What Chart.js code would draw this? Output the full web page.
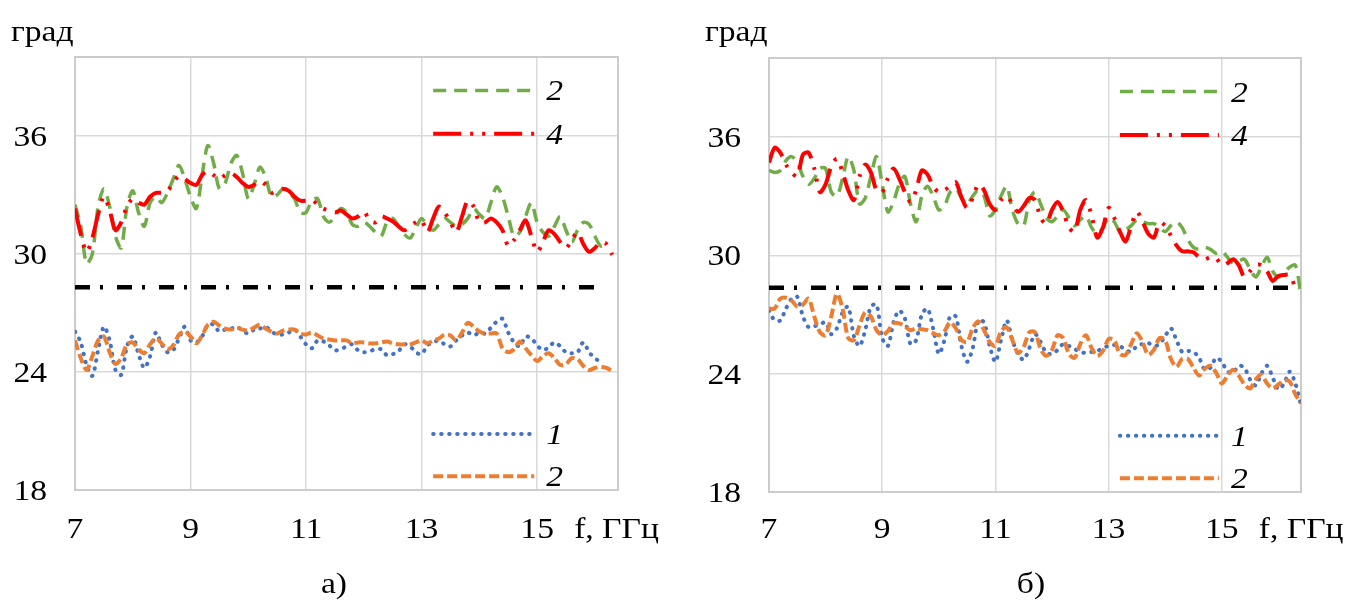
<!DOCTYPE html>
<html>
<head>
<meta charset="utf-8">
<script src="https://cdn.jsdelivr.net/npm/chart.js@4.4.0/dist/chart.umd.min.js"></script>
<style>
  body { margin: 0; background: #fff; }
  canvas { position: absolute; top: 0; }
</style>
</head>
<body>
<canvas id="chartA" width="681" height="601" style="left:0px"></canvas>
<canvas id="chartB" width="682" height="601" style="left:681px"></canvas>
<script>
// frequency grid, GHz
const freq = [
  7.0, 7.1, 7.2, 7.3, 7.4, 7.5, 7.6, 7.7, 7.8, 7.9,
  8.0, 8.1, 8.2, 8.3, 8.4, 8.5, 8.6, 8.7, 8.8, 8.9,
  9.0, 9.1, 9.2, 9.3, 9.4, 9.5, 9.6, 9.7, 9.8, 9.9,
  10.0, 10.1, 10.2, 10.3, 10.4, 10.5, 10.6, 10.7, 10.8, 10.9,
  11.0, 11.1, 11.2, 11.3, 11.4, 11.5, 11.6, 11.7, 11.8, 11.9,
  12.0, 12.1, 12.2, 12.3, 12.4, 12.5, 12.6, 12.7, 12.8, 12.9,
  13.0, 13.1, 13.2, 13.3, 13.4, 13.5, 13.6, 13.7, 13.8, 13.9,
  14.0, 14.1, 14.2, 14.3, 14.4, 14.5, 14.6, 14.7, 14.8, 14.9,
  15.0, 15.1, 15.2, 15.3, 15.4, 15.5, 15.6, 15.7, 15.8, 15.9,
  16.0, 16.1, 16.2, 16.3, 16.4
];
const xTicks = [7, 9, 11, 13, 15];
const yTicks = [18, 24, 30, 36];

// panel a)
const aGreen = [
  32.5, 31.4, 29.5, 30.0, 32.4, 33.3, 32.4, 30.9, 30.3, 32.4,
  33.2, 32.1, 31.4, 32.6, 32.9, 32.6, 33.1, 33.8, 34.5, 33.8,
  32.9, 32.3, 34.0, 35.5, 34.6, 33.3, 33.6, 34.6, 35.0, 34.1,
  32.8, 33.5, 34.4, 33.9, 32.9, 33.0, 33.3, 33.1, 32.8, 32.1,
  32.1, 32.7, 32.8, 31.9, 31.6, 31.9, 32.3, 32.1, 31.5, 31.4,
  31.6, 31.4, 31.1, 30.9, 31.6, 31.8, 31.4, 31.0, 30.8, 31.3,
  31.8, 31.4, 31.2, 31.5, 31.8, 31.6, 31.4, 31.5, 31.8, 32.3,
  32.0, 31.8, 32.6, 33.4, 32.9, 31.9, 30.9, 31.1, 31.9, 32.6,
  31.6, 31.1, 30.9, 31.4, 31.9, 31.2, 30.6, 31.2, 31.6, 31.5,
  30.9, 30.4, 30.5, null, null
];
const aRed = [
  32.3, 31.0, 30.1, 30.8, 32.0, 32.9, 32.2, 31.2, 31.6, 32.4,
  32.8, 32.6, 32.5, 32.9, 33.1, 33.1, 33.2, 33.6, 33.95, 33.8,
  33.6, 33.5, 34.0, 34.2, 34.0, 33.8, 34.0, 34.1, 33.9, 33.6,
  33.4, 33.5, 33.7, 33.5, 33.1, 33.2, 33.3, 33.2, 32.9, 32.7,
  32.7, 32.75, 32.5, 32.3, 32.2, 32.1, 32.2, 32.0, 31.8, 31.9,
  32.15, 31.7, 31.6, 31.9, 31.8, 31.65, 31.4, 31.2, 31.4, 31.6,
  31.7, 31.1, 31.8, 32.4, 32.1, 31.6, 31.1, 31.9, 32.7, 32.4,
  31.6, 31.6, 31.8, 31.6, 31.2, 30.4, 30.7, 31.2, 31.7, 30.9,
  30.1, 30.6, 31.2, 31.0, 30.6, 30.3, 30.7, 31.1, 30.5, 30.1,
  30.3, 30.6, 30.5, 29.95, null
];
const aBlue = [
  26.05, 25.5, 24.35, 23.8, 25.1, 26.3, 25.6, 24.1, 23.85, 25.3,
  25.8, 24.9, 24.2, 24.8, 26.0, 25.4, 25.0, 25.1, 25.7, 26.3,
  25.6, 25.5, 25.8, 26.4, 26.4, 26.05, 26.15, 26.2, 26.3, 26.1,
  25.95, 26.15, 26.2, 26.3, 26.05, 25.9, 25.9, 26.0, 26.15, 25.8,
  25.4, 25.2, 25.6, 25.55, 25.35, 25.1, 25.15, 25.3, 25.4, 25.1,
  25.0, 25.05, 25.15, 25.15, 24.85, 24.9, 25.05, 25.4, 25.3, 25.0,
  24.9, 25.35, 25.5, 25.6, 25.4, 25.3, 25.6, 25.85, 26.0, 25.85,
  26.0, 25.95, 26.25, 26.55, 26.7, 26.0, 25.5, 25.3, 25.8, 25.7,
  25.35, 25.1, 25.25, 25.5, 25.3, 25.0, 24.95, 25.0, 25.5, 25.0,
  24.7, 24.5, null, null, null
];
const aOrange = [
  25.6, 24.7, 24.1, 24.8, 25.6, 25.8, 25.0, 24.4, 24.7, 25.4,
  25.5, 25.15, 24.95, 25.4, 25.7, 25.45, 25.15, 25.35, 25.9, 26.05,
  25.8, 25.45, 25.85, 26.4, 26.55, 26.35, 26.2, 26.15, 26.25, 26.15,
  26.1, 26.25, 26.4, 26.2, 26.05, 25.95, 26.1, 26.15, 26.15, 25.95,
  25.9, 26.0, 25.85, 25.7, 25.65, 25.6, 25.6, 25.6, 25.45, 25.5,
  25.5, 25.45, 25.45, 25.5, 25.55, 25.45, 25.4, 25.4, 25.4, 25.5,
  25.6, 25.45, 25.6, 25.7, 25.9, 25.85, 25.6, 26.0, 26.5, 26.3,
  26.05, 25.95, 25.95, 25.95, 25.2, 25.0, 25.15, 25.55, 25.2, 24.85,
  24.55, 24.8, 24.95, 24.7, 24.35, 24.4, 24.7, 24.65, 24.3, 24.1,
  24.2, 24.25, 24.2, 24.05, null
];
const aLevel = 28.3;
const aLevelEnd = 16.0;

// panel б)
const bGreen = [
  34.3, 34.2, 34.3, 34.8, 35.0, 34.7, 34.0, 33.6, 33.9, 34.4,
  34.4, 33.2, 33.0, 33.9, 35.0, 34.3, 32.6, 32.9, 34.0, 35.0,
  33.6, 32.2, 32.7, 33.6, 34.0, 32.6, 31.7, 33.0, 33.5, 33.0,
  32.3, 32.5, 33.2, 33.4, 32.9, 32.6, 33.0, 33.3, 33.0, 32.0,
  32.3, 33.0, 33.5, 32.3, 31.6, 31.5, 32.8, 33.2, 32.6, 31.9,
  31.7, 32.0, 32.3, 31.9, 31.5, 31.8, 32.0, 31.4, 31.1, 31.4,
  31.9, 31.7, 31.2, 31.3, 31.5, 31.8, 31.7, 31.6, 31.6, 31.4,
  31.2, 31.5, 31.7, 31.4, 30.8, 30.4, 30.3, 30.4, 30.3, 30.1,
  30.2, 29.9, 29.6, 29.7, 29.8, 29.3, 28.9, 29.4, 29.9, 29.2,
  28.9, 29.1, 29.4, 29.5, 28.0
];
const bRed = [
  34.7, 35.45, 35.2, 34.6, 34.2, 34.0, 35.1, 35.2, 34.4, 33.2,
  33.6, 34.5, 34.9, 34.2, 33.3, 32.8, 34.0, 34.6, 34.2, 33.3,
  33.2, 33.9, 34.4, 33.9, 33.2, 32.7, 33.3, 34.3, 34.1, 33.5,
  33.2, 33.3, 33.5, 33.7, 32.95, 32.4, 32.9, 33.6, 33.3, 32.6,
  32.3, 32.8, 33.0, 32.6, 32.2, 32.5, 32.9, 32.8, 31.9, 31.6,
  32.3, 32.7, 32.2, 31.4, 31.2, 32.3, 32.8, 32.0, 30.9, 31.4,
  32.4, 31.9, 31.2, 30.7, 31.5, 32.2, 31.7, 31.1, 30.9, 31.65,
  31.5, 31.0, 30.5, 30.2, 30.2, 30.15, 29.9, 29.8, 29.9, 29.85,
  29.5, 29.6, 29.8, 29.5, 28.9, 29.2, 29.5, 29.5, 29.2, 28.7,
  28.95, 29.0, 29.0, 28.35, null
];
const bBlue = [
  27.2, 26.7, 26.7, 27.3, 27.8, 27.9, 26.9, 26.35, 26.4, 26.5,
  26.6, 26.0, 26.3, 27.1, 27.4, 25.9, 25.4, 26.2, 27.4, 27.5,
  25.8, 25.4, 26.6, 27.2, 26.8, 25.5, 25.7, 27.0, 27.3, 26.3,
  25.0, 25.7, 26.9, 26.9, 25.4, 24.6, 25.3, 26.7, 26.6, 25.4,
  24.6, 25.7, 26.7, 25.7, 25.0, 24.7, 25.3, 26.0, 25.6, 25.05,
  25.0, 25.2, 25.5, 25.4, 25.25, 25.1, 25.05, 25.1, 25.15, 25.3,
  25.4, 25.45, 25.4, 25.2, 25.1, 25.4, 25.5, 25.55, 25.4, 25.5,
  25.9, 26.3, 25.7, 25.1, 25.15, 25.1, 24.8, 24.2, 24.3, 24.8,
  24.6, 24.1, 24.05, 24.4, 24.3, 23.7, 23.4, 24.0, 24.4, 23.8,
  23.2, 23.5, 24.1, 23.5, 22.4
];
const bOrange = [
  27.3, 27.3, 27.8, 27.85, 27.7, 27.4, 27.5, 27.8, 26.9, 26.1,
  25.95, 26.9, 28.05, 27.3, 25.8, 25.7, 26.45, 27.1, 26.9, 26.2,
  25.95, 26.15, 26.55, 26.55, 26.4, 26.2, 26.3, 26.25, 26.2, 26.05,
  25.95, 26.15, 26.6, 26.3, 25.7, 25.6, 26.3, 26.65, 26.2, 25.6,
  25.4, 26.15, 26.35, 25.7, 25.05, 25.35, 26.1, 26.1, 25.25, 24.9,
  25.2, 25.95, 25.8, 25.0, 24.8, 25.5, 25.95, 25.3, 24.9, 25.15,
  25.75, 25.7, 25.0, 24.95, 25.5, 26.05, 25.6, 24.95, 25.2, 25.8,
  25.7, 24.75, 24.35, 24.75, 24.75, 24.3, 23.9, 24.25, 24.4, 24.05,
  23.5, 23.9, 24.2, 23.9, 23.45, 23.25, 23.7, 23.95, 23.5, 23.25,
  23.45, 23.65, 23.6, 22.95, 22.5
];
const bLevel = 28.35;
const bLevelEnd = 16.35;

const serif = '"Liberation Serif", "Times New Roman", serif';
const textStretch = 1.12;

function toPoints(values) {
  return freq.map((f, i) => ({ x: f, y: values[i] }));
}

// text is slightly widened, like the rest of the figure
function stretchedText(ctx, text, x, y, align, font) {
  ctx.save();
  ctx.font = font;
  ctx.fillStyle = '#000';
  ctx.textAlign = 'left';
  ctx.textBaseline = 'alphabetic';
  const w = ctx.measureText(text).width * textStretch;
  let left = x;
  if (align === 'center') left = x - w / 2;
  if (align === 'right') left = x - w;
  ctx.translate(left, y);
  ctx.scale(textStretch, 1);
  ctx.fillText(text, 0, 0);
  ctx.restore();
}

const styles = {
  green: { borderColor: '#70ad47', borderWidth: 3.5, borderDash: [13, 8], borderCapStyle: 'butt' },
  red: { borderColor: '#ff0000', borderWidth: 4, borderDash: [28, 9, 3, 9, 3, 9], borderCapStyle: 'butt' },
  blue: { borderColor: '#4472c4', borderWidth: 4, borderDash: [0.5, 7.5], borderCapStyle: 'round' },
  orange: { borderColor: '#ed7d31', borderWidth: 4, borderDash: [10, 4], borderCapStyle: 'butt' },
  black: { borderColor: '#000000', borderWidth: 4.5, borderDash: [15, 10, 3, 14], borderCapStyle: 'butt' }
};

const panelDecor = {
  id: 'panelDecor',
  beforeDatasetsDraw(chart) {
    const { ctx, chartArea: a } = chart;
    ctx.save();
    ctx.strokeStyle = '#cccccc';
    ctx.lineWidth = 2;
    ctx.strokeRect(a.left, a.top, a.right - a.left, a.bottom - a.top);
    ctx.restore();
  },
  afterDraw(chart, args, opts) {
    const { ctx, chartArea: a, scales: { x, y } } = chart;
    const font = '30px ' + serif;
    const italic = 'italic 30px ' + serif;

    yTicks.forEach(v => stretchedText(ctx, String(v), a.left - 28, y.getPixelForValue(v) + 10, 'right', font));
    xTicks.forEach(v => stretchedText(ctx, String(v), x.getPixelForValue(v), 538, 'center', font));
    stretchedText(ctx, 'f, ГГц', x.getPixelForValue(15) + 37, 538, 'left', font);
    stretchedText(ctx, 'град', a.left - 64, 41, 'left', font);
    stretchedText(ctx, opts.caption, opts.captionX, 593, 'center', font);

    // legend: short line sample + italic curve number
    const x0 = x.getPixelForValue(13.2);
    const x1 = x.getPixelForValue(14.95);
    opts.legend.forEach(item => {
      const st = styles[item.style];
      const py = y.getPixelForValue(item.at);
      ctx.save();
      ctx.strokeStyle = st.borderColor;
      ctx.lineWidth = st.borderWidth;
      ctx.lineCap = st.borderCapStyle;
      ctx.setLineDash(st.borderDash);
      ctx.beginPath();
      ctx.moveTo(x0, py);
      ctx.lineTo(x1, py);
      ctx.stroke();
      ctx.restore();
      stretchedText(ctx, item.label, x1 + 12, py + 10, 'left', italic);
    });
  }
};

function makePanel(canvasId, s, pad, caption, captionX) {
  const line = (values, style, order) => Object.assign({
    data: toPoints(values),
    pointRadius: 0,
    fill: false,
    tension: 0.3,
    spanGaps: false,
    order: order
  }, styles[style]);

  return new Chart(document.getElementById(canvasId), {
    type: 'line',
    data: {
      datasets: [
        line(s.red, 'red', 0),
        line(s.green, 'green', 1),
        line(s.orange, 'orange', 2),
        line(s.blue, 'blue', 3),
        Object.assign({
          data: [{ x: 7, y: s.level }, { x: s.levelEnd, y: s.level }],
          pointRadius: 0,
          order: 4
        }, styles.black)
      ]
    },
    options: {
      responsive: false,
      animation: false,
      layout: { padding: pad },
      plugins: {
        legend: { display: false },
        tooltip: { enabled: false },
        panelDecor: {
          caption: caption,
          captionX: captionX,
          legend: [
            { style: 'green', label: '2', at: 38.3 },
            { style: 'red', label: '4', at: 36.1 },
            { style: 'blue', label: '1', at: 20.85 },
            { style: 'orange', label: '2', at: 18.7 }
          ]
        }
      },
      scales: {
        x: {
          type: 'linear',
          min: 7,
          max: 16.4,
          afterBuildTicks: axis => { axis.ticks = xTicks.map(v => ({ value: v })); },
          afterFit: axis => { axis.height = 0; },
          ticks: { display: false },
          grid: { color: '#d9d9d9', lineWidth: 1.5, drawTicks: false },
          border: { display: false }
        },
        y: {
          min: 18,
          max: 40,
          afterBuildTicks: axis => { axis.ticks = yTicks.map(v => ({ value: v })); },
          afterFit: axis => { axis.width = 0; },
          ticks: { display: false },
          grid: { color: '#d9d9d9', lineWidth: 1.5, drawTicks: false },
          border: { display: false }
        }
      }
    },
    plugins: [panelDecor]
  });
}

makePanel('chartA',
  { green: aGreen, red: aRed, blue: aBlue, orange: aOrange, level: aLevel, levelEnd: aLevelEnd },
  { left: 75, right: 63, top: 57, bottom: 111 },
  'а)', 334);

makePanel('chartB',
  { green: bGreen, red: bRed, blue: bBlue, orange: bOrange, level: bLevel, levelEnd: bLevelEnd },
  { left: 88, right: 62, top: 58, bottom: 109 },
  'б)', 350);
</script>
</body>
</html>
